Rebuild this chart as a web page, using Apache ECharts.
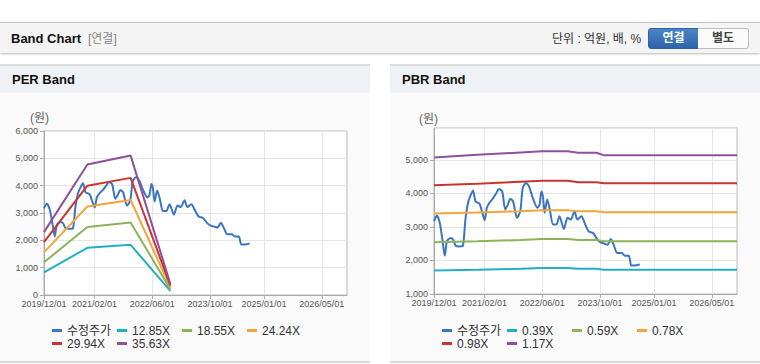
<!DOCTYPE html>
<html><head><meta charset="utf-8">
<script src="https://cdn.jsdelivr.net/npm/echarts@6/dist/echarts.min.js"></script>
<style>
body{margin:0;width:760px;height:364px;overflow:hidden;background:#fff;font-family:"Liberation Sans","Noto Sans CJK KR",sans-serif;position:relative}
.abs{position:absolute}
#hdr{left:0;top:22px;width:760px;height:30px;background:#f4f4f4;border-top:1px solid #c4c4c4;box-shadow:0 1px 2px rgba(0,0,0,.28)}
#ttl{left:11px;top:31px;font-size:13px;font-weight:bold;color:#111;line-height:16px}
#ttl2{left:88px;top:31px;font-size:12px;color:#888;line-height:16px}
#unit{left:552px;top:31px;font-size:12px;color:#333;line-height:16px}
.btn{top:28px;height:19px;line-height:19px;text-align:center;font-size:12px;font-weight:bold}
#b1{left:648px;width:49px;background:linear-gradient(#4a85c9,#2e64a9);color:#fff;border:1px solid #2f62a4;border-radius:3px 0 0 3px}
#b2{left:698px;width:50px;background:#fbfbfb;color:#444;border:1px solid #bdbdbd;border-left:none;border-radius:0 3px 3px 0}
.bar{top:64px;height:27px;background:#eef2f7;border-top:2px solid #dadada;font-size:13px;font-weight:bold;color:#111;line-height:27px}
.body{top:93px;height:268px;background:#fafafa;border-bottom:2px solid #dcdcdc}
.won{font-size:12px;color:#666;line-height:14px}
</style></head>
<body>
<div id="hdr" class="abs"></div>
<div id="ttl" class="abs">Band Chart</div>
<div id="ttl2" class="abs">[연결]</div>
<div id="unit" class="abs">단위 : 억원, 배, %</div>
<div id="b1" class="abs btn">연결</div>
<div id="b2" class="abs btn">별도</div>

<div class="abs bar" style="left:0;width:358px;padding-left:12px">PER Band</div>
<div class="abs bar" style="left:390px;width:358px;padding-left:12px">PBR Band</div>
<div class="abs body" style="left:0;width:370px"></div>
<div class="abs body" style="left:390px;width:370px"></div>
<div id="per" class="abs" style="left:0;top:93px;width:370px;height:268px"></div>
<div id="pbr" class="abs" style="left:390px;top:93px;width:370px;height:268px"></div>
<div class="abs won" style="left:30px;top:111px">(원)</div>
<div class="abs won" style="left:419px;top:112px">(원)</div>

<script>
// ---- data ----
const xTickLabels = ['2019/12/01','2021/02/01','2022/06/01','2023/10/01','2025/01/01','2026/05/01'];
const xStart = '2019-12-01';
const xEnd = '2026-12-01';

const priceName = '수정주가';
const priceDates = ['2019-12-01','2019-12-25','2020-01-19','2020-02-10','2020-03-01','2020-03-19','2020-04-19','2020-05-10','2020-06-01','2020-07-04','2020-08-01','2020-08-22','2020-09-13','2020-10-01','2020-10-25','2020-11-16','2020-12-19','2021-01-16','2021-02-01','2021-02-19','2021-03-13','2021-04-10','2021-05-07','2021-06-01','2021-06-28','2021-07-25','2021-08-16','2021-09-04','2021-09-28','2021-11-01','2021-11-28','2021-12-19','2022-01-16','2022-02-10','2022-03-13','2022-04-22','2022-05-10','2022-05-25','2022-06-07','2022-06-22','2022-07-13','2022-08-04','2022-09-01','2022-09-28','2022-10-25','2022-12-01','2023-01-01','2023-01-28','2023-03-01','2023-03-25','2023-04-28','2023-05-25','2023-06-28','2023-08-04','2023-09-10','2023-10-07','2023-11-10','2023-12-04','2024-01-01','2024-01-28','2024-02-25','2024-04-04','2024-04-28','2024-06-01','2024-06-22','2024-07-19','2024-09-01'];
const priceValues = [3170,3340,3120,2620,2140,2570,2670,2620,2440,2420,2440,3220,3720,3910,4090,3760,3690,3370,3200,3570,3720,3840,3990,4130,4060,3520,3670,3840,3760,3270,3470,4160,4310,4210,3870,3570,3670,4060,3910,3420,3820,3520,3070,3070,3320,2940,3270,3220,3470,3220,3320,3120,2870,2820,2620,2540,2500,2470,2640,2440,2220,2220,2140,2140,1850,1850,1880];

const perNames = ['12.85X','18.55X','24.24X','29.94X','35.63X'];
const perBandDates = ['2019-12-01','2020-12-01','2021-12-01','2022-11-01'];
const per1285 = [830, 1725, 1835, 150];
const per1855 = [1195, 2490, 2650, 215];
const per2424 = [1560, 3240, 3475, 280];
const per2994 = [1935, 4000, 4285, 345];
const per3563 = [2300, 4775, 5100, 410];

const pbrNames = ['0.39X','0.59X','0.78X','0.98X','1.17X'];
const pbrBandDates = ['2019-12-01','2020-12-01','2021-12-01','2022-06-01','2023-01-01','2023-04-01','2023-09-01','2023-11-01','2026-12-01'];
const pbr039 = [1700, 1720, 1750, 1775, 1775, 1750, 1750, 1725, 1725];
const pbr059 = [2540, 2570, 2610, 2640, 2640, 2610, 2610, 2575, 2575];
const pbr078 = [3400, 3430, 3470, 3495, 3495, 3465, 3465, 3435, 3435];
const pbr098 = [4240, 4290, 4350, 4380, 4380, 4330, 4330, 4300, 4300];
const pbr117 = [5070, 5150, 5220, 5255, 5255, 5210, 5210, 5140, 5140];

const colors = ['#3a75c4','#21afc4','#8cb358','#f2a53a','#c93431','#8e509b'];
const FF = '"Liberation Sans","Noto Sans CJK KR",sans-serif';

// monthly categories for the label axis
const monthCats = [];
(function(){
  let y = +xStart.slice(0,4), m = +xStart.slice(5,7);
  const ey = +xEnd.slice(0,4), em = +xEnd.slice(5,7);
  while (y < ey || (y === ey && m <= em)) {
    monthCats.push(y + '/' + String(m).padStart(2,'0') + '/01');
    m++; if (m > 12) { m = 1; y++; }
  }
})();
const showTick = (i, v) => xTickLabels.indexOf(v) >= 0;

function build(el, names, bandDates, bands, yMin, yMax, grid) {
  const chart = echarts.init(document.getElementById(el), null, {renderer:'svg'});
  const allNames = [priceName].concat(names);
  const series = [{
    name: priceName, type:'line', xAxisIndex:1, showSymbol:false, smooth:0.25,
    color: colors[0], lineStyle:{width:2, color: colors[0]},
    data: priceDates.map((d,i)=>[d, priceValues[i]])
  }];
  bands.forEach((b, k) => {
    series.push({
      name: names[k], type:'line', xAxisIndex:1, showSymbol:false,
      color: colors[k+1], lineStyle:{width:2, color: colors[k+1]},
      data: bandDates.map((d,i)=>[d, b[i]])
    });
  });
  const legendBase = {
    orient:'horizontal', left:52, itemWidth:10, itemHeight:3, itemGap:5, icon:'rect',
    padding:0, selectedMode:false,
    textStyle:{fontSize:12, color:'#333', width:45, lineHeight:13, fontFamily:FF}
  };
  chart.setOption({
    animation:false,
    textStyle:{fontFamily:FF},
    grid: Object.assign({show:true, borderColor:'#b8b8b8', borderWidth:1, backgroundColor:'#ffffff'}, grid),
    xAxis:[{
      type:'category', data: monthCats, boundaryGap:false,
      axisLine:{lineStyle:{color:'#aaaaaa'}},
      axisTick:{interval: showTick, length:4, lineStyle:{color:'#aaaaaa'}},
      axisLabel:{interval: showTick, fontSize:9, color:'#555', margin:4, fontFamily:FF},
      splitLine:{show:true, interval: showTick, lineStyle:{color:'#e6e6e6'}}
    },{
      type:'time', min:xStart, max:xEnd, show:false
    }],
    yAxis:{
      type:'value', min:yMin, max:yMax, interval:1000,
      axisLine:{show:true, lineStyle:{color:'#aaaaaa'}},
      axisTick:{show:true, length:4, lineStyle:{color:'#aaaaaa'}},
      axisLabel:{fontSize:9, color:'#555', margin:6, showMaxLabel: yMax % 1000 === 0, fontFamily:FF,
        formatter: v => Number(v).toLocaleString('en-US')},
      splitLine:{show:true, lineStyle:{color:'#e6e6e6'}}
    },
    legend:[
      Object.assign({}, legendBase, {top:231, data: allNames.slice(0,4)}),
      Object.assign({}, legendBase, {top:244, data: allNames.slice(4)})
    ],
    series: series
  });
}

build('per', perNames, perBandDates, [per1285, per1855, per2424, per2994, per3563], 0, 6000,
  {left:44, right:23, top:38, bottom:66});
build('pbr', pbrNames, pbrBandDates, [pbr039, pbr059, pbr078, pbr098, pbr117], 1000, 5950,
  {left:44, right:23, top:35, bottom:67});
</script>
</body></html>
